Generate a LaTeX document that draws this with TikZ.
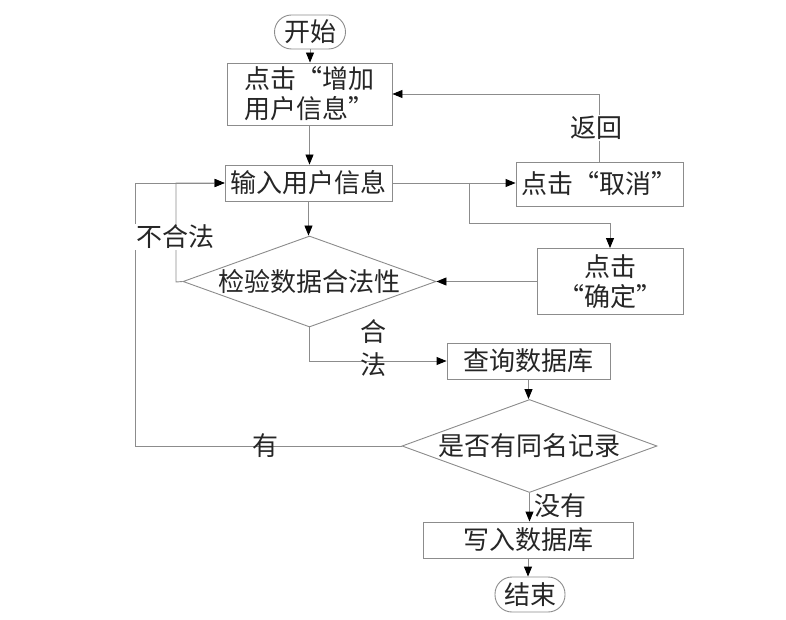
\documentclass[tikz,border=0pt]{standalone}
\usepackage{fontspec}
\setmainfont{Noto Sans CJK SC}
\usetikzlibrary{arrows.meta,shapes.geometric}
\begin{document}
\begin{tikzpicture}[x=1pt,y=-1pt,
  cjk/.style={font=\fontsize{26}{30}\selectfont, text=black!85},
  line/.style={draw=black!45, line width=0.9pt},
  arr/.style={line, -{Triangle[length=10pt,width=8pt,black]}},
  box/.style={rectangle, draw=black!45, line width=0.9pt, inner sep=0pt, align=center, cjk},
  term/.style={box, rounded corners=17pt},
  dec/.style={diamond, draw=black!45, line width=0.9pt, inner sep=0pt, aspect=2.75, cjk},
  lab/.style={cjk, inner sep=1pt},
  wlab/.style={lab, fill=white}
]
\fill[white] (0,0) rectangle (786,620);
\useasboundingbox (0,0) rectangle (786,620);

\node[term, minimum width=71pt, minimum height=34pt] (start) at (310,32) {开始};
\node[box, minimum width=165pt, minimum height=62pt] (b1) at (309.5,94) {点击“增加\\用户信息”};
\node[box, minimum width=167pt, minimum height=36pt] (b2) at (308.5,183) {输入用户信息};
\node[box, minimum width=167pt, minimum height=44pt] (cancel) at (599.5,184) {点击“取消”};
\node[box, minimum width=146pt, minimum height=66pt] (confirm) at (610,281.5) {点击\\“确定”};
\node[dec, minimum width=253pt, minimum height=91pt] (d1) at (309.5,281.5) {检验数据合法性};
\node[box, minimum width=163pt, minimum height=36pt] (query) at (528.5,361) {查询数据库};
\node[dec, minimum width=255pt, minimum height=93pt] (d2) at (529.5,446) {是否有同名记录};
\node[box, minimum width=210pt, minimum height=36pt] (write) at (528,540) {写入数据库};
\node[term, minimum width=70pt, minimum height=35pt] (end) at (530,594.5) {结束};

\coordinate (br) at (469,183);
\coordinate (brb) at (469,223);
\coordinate (nl) at (176,282);
\coordinate (ol) at (135,446);

\draw[arr] (start.south) -- (start.south |- b1.north);
\draw[arr] (b1.south) -- (b1.south |- b2.north);
\draw[arr] (b2.south) -- (b2.south |- d1.north);
\draw[arr] (b2.east) -- (b2.east -| cancel.west);
\draw[arr] (br) -- (brb) -| (confirm.north);
\draw[arr] (confirm.west) -- (d1.east);
\draw[arr] (cancel.north) |- (b1.east);
\draw[arr] (d1.west) -- (nl) |- (b2.west);
\draw[arr] (d2.west) -- (ol) |- (b2.west);
\draw[arr] (d1.south) |- (query.west);
\draw[arr] (query.south) -- (query.south |- d2.north);
\draw[arr] (d2.south) -- (d2.south |- write.north);
\draw[arr] (write.south) -- (write.south |- end.north);

\node[wlab] (lreturn) at (596,128) {返回};
\node[wlab] (lillegal) at (175,237) {不合法};
\node[lab] (lhe) at (373,332) {合};
\node[lab] (lfa) at (373,365) {法};
\node[lab] (lyou) at (265,446) {有};
\node[lab] (lno) at (560,506) {没有};
\end{tikzpicture}
\end{document}
